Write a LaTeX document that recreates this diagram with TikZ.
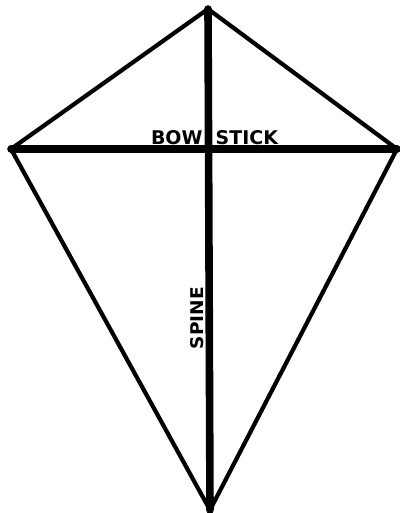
\documentclass[tikz,border=0pt]{standalone}
\usepackage{graphicx}
\usepackage{fontspec}
\setmainfont{DejaVu Sans}
\tikzset{edge/.style={line width=4.2pt,line cap=round,line join=round},
stick/.style={line width=7.6pt,line cap=round},
lbl/.style={inner sep=0pt,font=\bfseries}}
\begin{document}
\begin{tikzpicture}[x=1pt,y=-1pt]
\useasboundingbox (0,0) rectangle (399,513);
\coordinate (t) at (208,9);
\coordinate (l) at (11,149);
\coordinate (r) at (397,149);
\coordinate (b) at (210,510);
\draw[edge] (t)--(l)--(b)--(r)--cycle;
\draw[stick] (t)--(b);
\draw[stick] (l)--(r);
\node[lbl] (bow) at (214.5,137.5) {\resizebox{127pt}{14pt}{BOW\hspace{0.7em}STICK}};
\node[lbl,rotate=90] (spine) at (197.5,318) {\resizebox{62pt}{13pt}{SPINE}};
\end{tikzpicture}
\end{document}
